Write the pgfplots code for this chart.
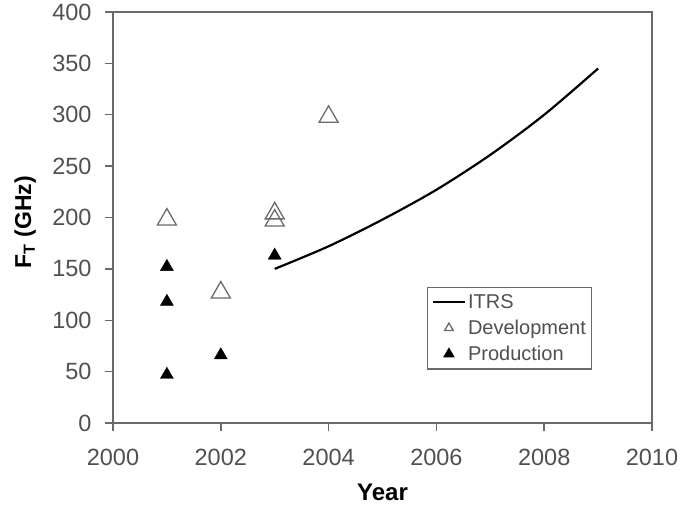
\documentclass[border=0pt]{standalone}
\usepackage{pgfplots}
\pgfplotsset{compat=1.18}
\usepackage{fontspec}
\setmainfont{Liberation Sans}
\definecolor{axgray}{HTML}{6A6A6A}
\definecolor{txtgray}{HTML}{505050}
\pgfplotsset{
  lineleg/.style={legend image code/.code={\draw[##1] (0pt,0pt) -- (32pt,0pt);}},
  markleg/.style={legend image code/.code={\draw[##1, mark size=#1] plot coordinates {(16pt,0pt)};}},
}
\begin{document}
\begin{tikzpicture}[x=1pt,y=1pt]
\begin{axis}[
  at={(0,0)}, anchor=south west,
  scale only axis, width=539pt, height=411pt,
  xmin=2000, xmax=2010, ymin=0, ymax=400,
  xtick={2000,2002,...,2010}, ytick={0,50,...,400},
  xtick pos=bottom, ytick pos=left,
  tick align=outside, major tick length=8pt,
  axis line style={axgray, line width=1.6pt},
  every tick/.style={axgray, line width=1.4pt},
  /pgf/number format/assume math mode=true,
  /pgf/number format/1000 sep={},
  tick label style={font=\fontsize{23.5}{26}\selectfont, text=txtgray},
  xticklabel style={yshift=-15pt},
  yticklabel style={xshift=-10pt},
  xlabel={\textbf{Year}},
  ylabel={\textbf{F\textsubscript{T} (GHz)}},
  xlabel style={font=\fontsize{24}{28}\selectfont, at={(axis description cs:0.5,-0.168)}, anchor=center},
  ylabel style={font=\fontsize{23}{28}\selectfont, at={(axis description cs:-0.163,0.489)}, anchor=center},
  legend style={at={(0.583,0.331)}, anchor=north west,
    draw=axgray, line width=1.2pt, font=\fontsize{20}{23}\selectfont,
    text=txtgray, row sep=6pt, inner xsep=4pt, inner ysep=5pt, cells={anchor=west}},
  legend cell align=left,
]
\addplot[black, line width=2.2pt, smooth, no marks, lineleg] coordinates {
 (2003,150) (2004,172) (2005,198) (2006,227) (2007,261) (2008,300) (2009,345)};
\addlegendentry{ITRS}
\addplot[only marks, mark=triangle, mark size=11pt, mark options={draw=axgray, line width=1.3pt, fill=white},
  markleg=5pt] coordinates {
 (2001,198) (2002,127) (2003,197) (2003,204) (2004,298)};
\addlegendentry{Development}
\addplot[only marks, mark=triangle*, mark size=7.5pt, mark options={draw=black, fill=black},
  markleg=5.5pt] coordinates {
 (2001,152) (2001,118) (2001,47) (2002,66) (2003,163)};
\addlegendentry{Production}
\end{axis}
\pgfresetboundingbox
\path[use as bounding box] (-113,-81) rectangle (567,423);
\end{tikzpicture}
\end{document}
